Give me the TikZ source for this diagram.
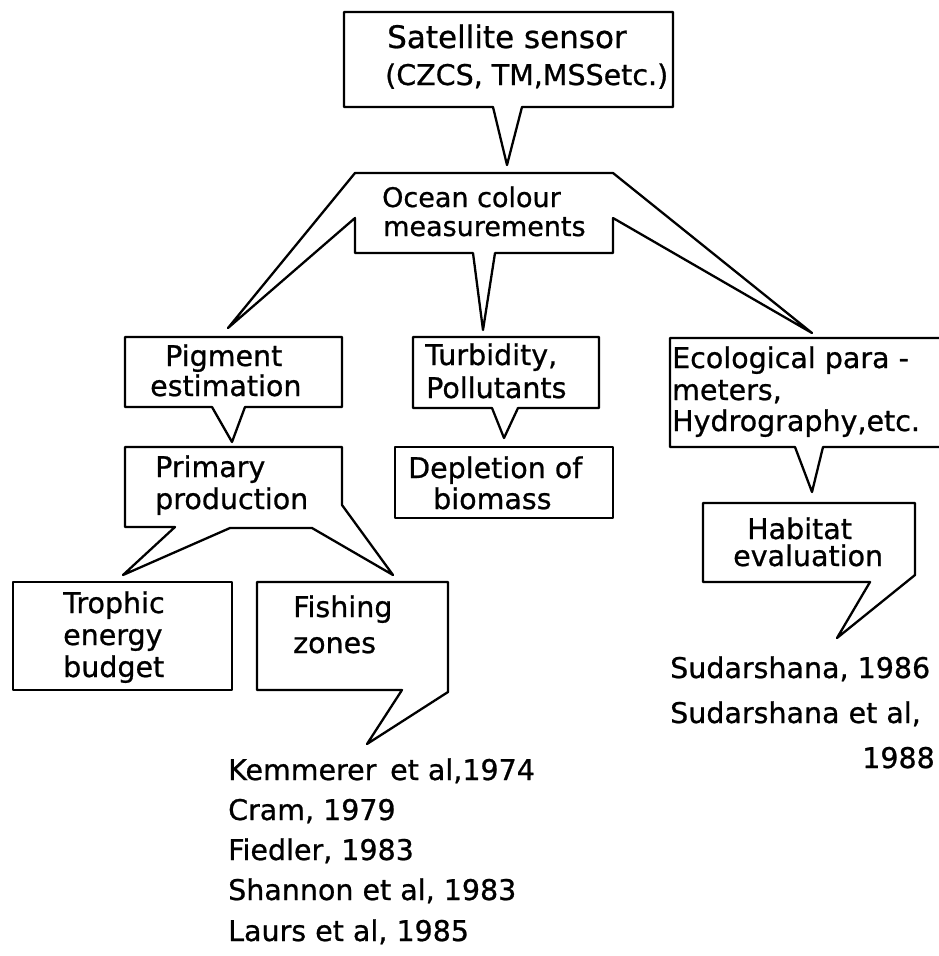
\documentclass[tikz,border=0pt]{standalone}
\usepackage{fontspec}
\setmainfont[FakeBold=0.8]{DejaVu Sans}
\begin{document}
\begin{tikzpicture}[x=1pt,y=-1pt,
  callout/.style={draw=black, line width=2.3pt, line join=round},
  txt/.style={anchor=base west, inner sep=0pt, font=\fontsize{28.5}{31}\selectfont},
  txtr/.style={anchor=base east, inner sep=0pt, font=\fontsize{28.5}{31}\selectfont}]
\useasboundingbox (0,0) rectangle (939,956);
\clip (0,0) rectangle (939,956);

% Satellite sensor
\draw[callout] (344,12) -- (673,12) -- (673,107) -- (522,107) -- (507,165) -- (493,107) -- (344,107) -- cycle;
\node[txt, font=\fontsize{31}{33}\selectfont] (sat1) at (387,48) {Satellite sensor};
\node[txt] (sat2) at (385,85) {(CZCS, TM,MSSetc.)};

% Ocean colour measurements
\draw[callout] (355,173) -- (613,173) -- (812,333) -- (613,218) -- (613,253) -- (495,253) -- (483,330)
  -- (473,253) -- (355,253) -- (355,218) -- (228,328) -- cycle;
\node[txt, font=\fontsize{27}{29}\selectfont] (oc1) at (382,207) {Ocean colour};
\node[txt, font=\fontsize{27}{29}\selectfont] (oc2) at (383,236) {measurements};

% Pigment estimation
\draw[callout] (125,337) -- (342,337) -- (342,407) -- (245,407) -- (232,442) -- (212,407) -- (125,407) -- cycle;
\node[txt] (pig1) at (165,366) {Pigment};
\node[txt] (pig2) at (150,396) {estimation};

% Turbidity, Pollutants
\draw[callout] (413,337) -- (599,337) -- (599,408) -- (518,408) -- (504,438) -- (492,408) -- (413,408) -- cycle;
\node[txt] (tur1) at (425,365) {Turbidity,};
\node[txt] (tur2) at (426,398) {Pollutants};

% Depletion of biomass
\draw[callout] (395,447) rectangle (613,518);
\node[txt] (dep1) at (408,478) {Depletion of};
\node[txt] (dep2) at (433,509) {biomass};

% Ecological parameters
\draw[callout] (670,338) -- (950,338) -- (950,447) -- (823,447) -- (812,492) -- (795,447) -- (670,447) -- cycle;
\node[txt] (eco1) at (672,368) {Ecological para -};
\node[txt] (eco2) at (672,400) {meters,};
\node[txt] (eco3) at (672,431) {Hydrography,etc.};

% Habitat evaluation
\draw[callout] (703,503) -- (915,503) -- (915,575) -- (837,638) -- (870,582) -- (703,582) -- cycle;
\node[txt] (hab1) at (747,539) {Habitat};
\node[txt] (hab2) at (733,566) {evaluation};

% Primary production
\draw[callout] (125,447) -- (342,447) -- (342,505) -- (393,575) -- (312,528) -- (230,528) -- (123,575)
  -- (175,527) -- (125,527) -- cycle;
\node[txt] (pp1) at (155,477) {Primary};
\node[txt] (pp2) at (155,509) {production};

% Trophic energy budget
\draw[callout] (13,582) rectangle (232,690);
\node[txt] (tro1) at (63,613) {Trophic};
\node[txt] (tro2) at (63,645) {energy};
\node[txt] (tro3) at (63,677) {budget};

% Fishing zones
\draw[callout] (257,582) -- (448,582) -- (448,692) -- (367,744) -- (402,690) -- (257,690) -- cycle;
\node[txt] (fis1) at (293,617) {Fishing};
\node[txt] (fis2) at (293,653) {zones};

% References (fishing zones)
\node[txt] (r1) at (228,780) {Kemmerer\, et al,1974};
\node[txt] (r2) at (228,820) {Cram, 1979};
\node[txt] (r3) at (228,860) {Fiedler, 1983};
\node[txt] (r4) at (228,900) {Shannon et al, 1983};
\node[txt] (r5) at (228,941) {Laurs et al, 1985};

% References (habitat)
\node[txt] (s1) at (670,678) {Sudarshana, 1986};
\node[txt] (s2) at (670,723) {Sudarshana et al,};
\node[txtr] (s3) at (935,768) {1988};
\end{tikzpicture}
\end{document}
